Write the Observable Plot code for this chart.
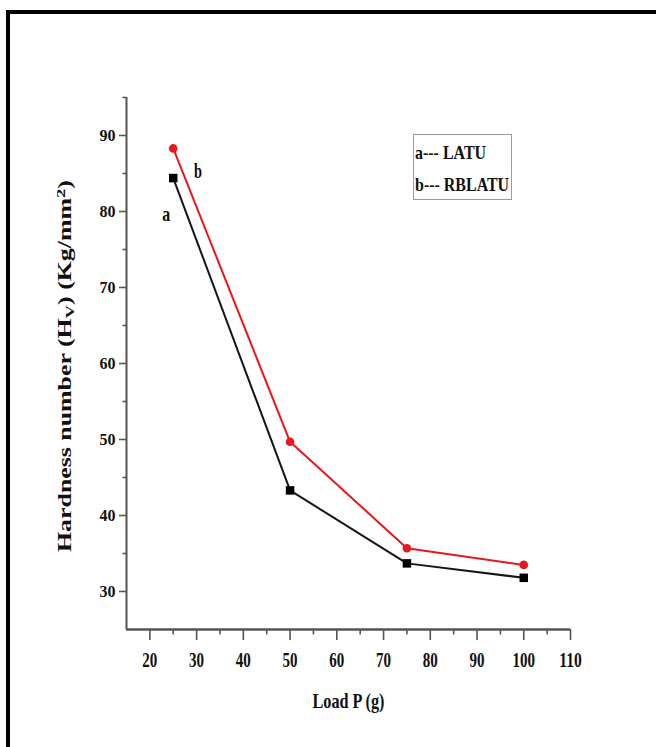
<!DOCTYPE html>
<html>
<head>
<meta charset="utf-8">
<script src="https://cdn.jsdelivr.net/npm/d3@7"></script>
<script src="https://cdn.jsdelivr.net/npm/@observablehq/plot@0.6"></script>
<style>
  html, body { margin: 0; padding: 0; background: #fff; }
  #page { position: relative; width: 656px; height: 747px; overflow: hidden; background: #fff; }
  #chart { position: absolute; left: 0; top: 0; }
  #frame { position: absolute; left: 6px; top: 10px; width: 700px; height: 800px;
           border-top: 4px solid #000; border-left: 4px solid #000; pointer-events: none; }
  #legend { position: absolute; left: 413px; top: 134px; width: 97px; height: 64px;
            border: 1.5px solid #9a9a9a; font-family: "Liberation Serif", "Times New Roman", serif;
            font-weight: bold; font-size: 19px; color: #111; }
  #legend div { position: absolute; left: 1px; white-space: nowrap; transform-origin: left center; transform: scaleX(0.84); }
</style>
</head>
<body>
<div id="page">
  <div id="chart"></div>
  <div id="legend"></div>
  <div id="frame"></div>
</div>
<script>
// Vickers hardness versus applied load for the two crystals
const loads = [25, 50, 75, 100];
const latu = [84.4, 43.3, 33.7, 31.8];     // a --- LATU
const rblatu = [88.3, 49.7, 35.7, 33.5];   // b --- RBLATU

const xTicks = [20, 30, 40, 50, 60, 70, 80, 90, 100, 110];
const xMinorTicks = [25, 35, 45, 55, 65, 75, 85, 95, 105];
const yTicks = [30, 40, 50, 60, 70, 80, 90];
const yMinorTicks = [35, 45, 55, 65, 75, 85, 95];

const legendEntries = ["a--- LATU", "b--- RBLATU"];
const tagText = ["a", "b"];
const tagX = [23.5, 30.3];
const tagY = [79.6, 85.3];
const xTitle = "Load P (g)";

const serif = "'Liberation Serif', 'Times New Roman', serif";

const rowsA = loads.map((p, i) => ({p, h: latu[i]}));
const rowsB = loads.map((p, i) => ({p, h: rblatu[i]}));
const tags = tagText.map((t, i) => ({t, x: tagX[i], y: tagY[i]}));

const plot = Plot.plot({
  width: 656,
  height: 747,
  marginLeft: 126,
  marginRight: 86,
  marginTop: 97,
  marginBottom: 118,
  style: {fontFamily: serif, fontWeight: "bold", color: "#111", background: "transparent"},
  x: {domain: [15, 110]},
  y: {domain: [25, 95]},
  marks: [
    Plot.axisX({ticks: xTicks, tickSize: 11, tickPadding: 11, fontSize: 22,
                tickFormat: d => String(d), stroke: "#555", strokeWidth: 1.6, label: null}),
    Plot.axisX({ticks: xMinorTicks, tickSize: 5.5, text: null,
                stroke: "#555", strokeWidth: 1.6, label: null}),
    Plot.axisY({ticks: yTicks, tickSize: 7, tickPadding: 4, fontSize: 16,
                tickFormat: d => String(d), stroke: "#555", strokeWidth: 1.6, label: null}),
    Plot.axisY({ticks: yMinorTicks, tickSize: 3.5, text: null,
                stroke: "#555", strokeWidth: 1.6, label: null}),
    Plot.ruleY([25], {stroke: "#555", strokeWidth: 2.4}),
    Plot.ruleX([15], {stroke: "#555", strokeWidth: 2}),
    Plot.line(rowsA, {x: "p", y: "h", stroke: "#151515", strokeWidth: 2}),
    Plot.line(rowsB, {x: "p", y: "h", stroke: "#e8161e", strokeWidth: 2}),
    Plot.dot(rowsA, {x: "p", y: "h", symbol: "square", r: 4.8, fill: "#000", stroke: "none"}),
    Plot.dot(rowsB, {x: "p", y: "h", symbol: "circle", r: 4.3, fill: "#e8161e", stroke: "none"}),
    Plot.text(tags, {x: "x", y: "y", text: "t", fontSize: 21, fill: "#111"}),
    Plot.text([xTitle], {frameAnchor: "bottom", dy: 78, fontSize: 22, fill: "#111"})
  ]
});

document.getElementById("chart").appendChild(plot);
const svg = d3.select(plot);

// narrow the tall serif labels along the x direction
const xLabels = new Set(xTicks.map(String));
svg.selectAll("text").each(function () {
  const s = this.textContent;
  const sel = d3.select(this);
  const fs = +this.getAttribute("font-size") || +getComputedStyle(this).fontSize.replace("px", "");
  if (xLabels.has(s) && fs >= 20) {
    sel.attr("textLength", s.length * 7.5).attr("lengthAdjust", "spacingAndGlyphs");
  } else if (tagText.includes(s)) {
    sel.attr("textLength", 8).attr("lengthAdjust", "spacingAndGlyphs");
  } else if (s === xTitle) {
    sel.attr("textLength", 72).attr("lengthAdjust", "spacingAndGlyphs");
  }
});

// rotated y-axis title with subscript and superscript
const yScale = plot.scale("y");
const yMid = (yScale.range[0] + yScale.range[1]) / 2 + 3;
const yt = svg.append("text")
  .attr("transform", `translate(71,${yMid}) rotate(-90)`)
  .attr("text-anchor", "middle")
  .attr("font-family", serif)
  .attr("font-weight", "bold")
  .attr("font-size", 18)
  .attr("fill", "#111")
  .attr("textLength", 372)
  .attr("lengthAdjust", "spacingAndGlyphs");
yt.append("tspan").text("Hardness number (H");
yt.append("tspan").attr("baseline-shift", "-25%").attr("font-size", 13).text("V");
yt.append("tspan").text(") (Kg/mm");
yt.append("tspan").attr("baseline-shift", "45%").attr("font-size", 13).text("2");
yt.append("tspan").text(")");

// legend box
const legend = d3.select("#legend");
legend.selectAll("div").data(legendEntries).join("div")
  .style("top", (d, i) => (i === 0 ? 7 : 39) + "px")
  .text(d => d);
</script>
</body>
</html>
